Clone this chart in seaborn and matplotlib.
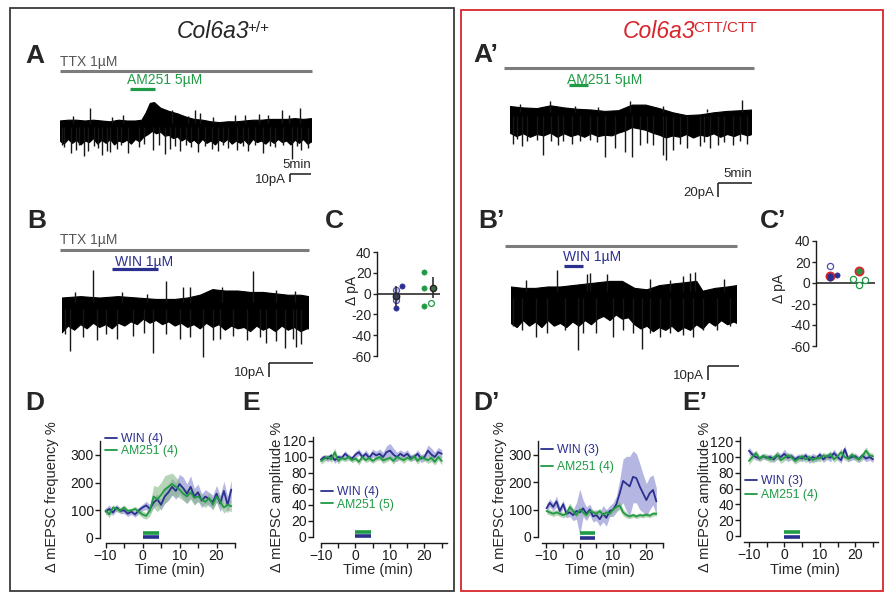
import numpy as np
import matplotlib
matplotlib.use("Agg")
import matplotlib.pyplot as plt
import matplotlib.transforms as mtransforms
from matplotlib.patches import Rectangle
import seaborn as sns

# ---------------- DATA ----------------
# Panel A (Col6a3+/+, AM251) trace: envelope (min, pA), events
A_UP_T = [0,2,4,6,8,10,12,14,16,18,19.5,20.5,21.5,22.5,24,26,28,30,32,34,36,38,40,42,44,46,48,50,52,54,56,58,60]
A_UP_V = [0,1,1,0,1,0,-1,1,0,0,1,10,22,23,16,12,9,5,2,1,-1,-2,-1,-1,0,1,1,2,2,2,3,2,3]
A_LO_T = list(range(0, 61))
A_LO_V = [-25,-29,-23,-28,-24,-30,-25,-27,-22,-29,
          -24,-28,-23,-30,-25,-27,-24,-29,-23,-26,
          -20,-17,-13,-16,-14,-19,-18,-22,-20,-25,
          -22,-27,-24,-29,-23,-28,-25,-30,-24,-27,
          -23,-29,-25,-28,-24,-30,-23,-27,-25,-29,
          -24,-28,-23,-27,-25,-30,-24,-28,-23,-29,
          -26]
A_DN_T = [0.5,1.0,2.6,3.7,4.5,5.6,6.7,8.0,9.0,9.9,11.1,11.9,13.5,14.5,16.3,18.7,20.0,22.2,23.5,25.0,26.2,27.5,28.6,30.0,31.3,32.9,34.5,36.1,37.7,38.8,40.1,42.1,43.5,44.8,46.5,48.4,50.0,51.2,53.0,55.2,56.5,57.5,59.1]
A_DN_V = [-30,-32,-40,-36,-30,-44,-38,-31,-34,-42,-37,-39,-35,-30,-40,-33,-29,-36,-30,-41,-35,-31,-38,-30,-33,-39,-31,-35,-37,-30,-34,-36,-31,-38,-30,-40,-31,-33,-30,-47,-31,-36,-34]
A_UK_T = [3.0,7.1,12.5,15.0,26.6,30.5,32.1,33.3,36.5,41.7,44.0,47.5,49.5,52.8,54.5,57.1]
A_UK_V = [6,16,5,7,14,6,14,10,5,8,7,9,8,14,7,16]
A_TTX = (0, 60)
A_DRUG = (16.7, 22.6)

# Panel A' (Col6a3 CTT/CTT, AM251)
AP_UP_T = [0,2,4,6,8,10,12,14,16,18,20,22,24,26,28,30,32,34,35.6]
AP_UP_V = [5,3,2,6,3,1,0,-2,-1,7,7,2,-4,-8,-7,-4,-2,-1,0]
AP_LO_T = list(range(0, 36)) + [35.6]
AP_LO_V = [-33,-38,-34,-39,-35,-37,-33,-39,-34,-38,
           -35,-39,-34,-38,-36,-37,-33,-30,-25,-27,
           -29,-33,-36,-40,-37,-39,-35,-40,-36,-38,
           -34,-39,-35,-38,-34,-37,
           -35]
AP_DN_T = [0.5,1.0,1.7,2.5,3.9,4.9,6.0,7.1,7.8,9.1,10.3,11.8,12.8,14.0,15.4,16.9,17.9,19.1,20.2,21.1,22.5,23.0,24.0,25.0,26.0,27.9,28.6,29.4,30.6,31.5,32.8,33.8,34.8]
AP_DN_V = [-48,-41,-52,-44,-43,-64,-45,-50,-45,-48,-45,-43,-46,-67,-55,-60,-67,-50,-47,-50,-64,-71,-57,-48,-55,-52,-46,-55,-50,-46,-50,-45,-48]
AP_UK_T = [1.5,5.9,9.5,13.0,17.6,22.5,29.0,34.2]
AP_UK_V = [9,13,6,5,13,6,2,14]
AP_TTX = (-0.9, 35.9)
AP_DRUG = (8.7, 11.5)

# Panel B (Col6a3+/+, WIN)
B_UP_T = [0,3,6,9,12,15,18,20,22,24,26,28,30,32,34,36,38,39.3]
B_UP_V = [0,1,0,1,0,-1,-1,0,2,6,5,5,4,4,3,2,2,1]
B_LO_T = list(range(0, 40)) + [39.3]
B_LO_V = [-25,-20,-23,-19,-22,-18,-21,-19,-22,-18,
          -20,-17,-19,-15,-18,-16,-19,-17,-20,-18,
          -21,-19,-22,-18,-21,-19,-23,-20,-22,-21,
          -24,-20,-23,-21,-24,-20,-23,-21,-24,-22,
          -22]
B_DN_T = [0.4,1.3,3.4,5.5,7.0,8.7,11.3,13.0,14.5,16.5,18.8,20.4,22.5,24.1,25.1,27.2,29.4,31.5,32.5,34.1,35.5,36.8,37.3,38.1]
B_DN_V = [-26,-38,-28,-30,-26,-29,-27,-25,-39,-26,-29,-28,-42,-30,-29,-27,-30,-28,-32,-31,-36,-29,-35,-33]
B_UK_T = [2.0,5.0,9.5,13.5,16.5,19.3,20.4,25.5,30.4,34.0,37.0]
B_UK_V = [4,20,4,3,12,8,8,8,19,6,5]
B_TTX = (-0.3, 39.3)
B_DRUG = (7.9, 15.3)

# Panel B' (Col6a3 CTT/CTT, WIN)
BP_UP_T = [0,2,4,6,8,10,12,14,16,18,20,22,24,26,28,30,31,33,35,36.5]
BP_UP_V = [0,-1,-1,0,0,1,2,3,4,4,-1,-2,1,2,3,4,-3,-1,0,1]
BP_LO_T = list(range(0, 37)) + [36.5]
BP_LO_V = [-26,-29,-24,-28,-25,-29,-24,-28,-26,-29,
           -25,-28,-24,-27,-23,-21,-24,-20,-23,-22,
           -27,-30,-28,-32,-29,-31,-28,-32,-29,-31,
           -27,-30,-25,-28,-24,-27,-25,
           -26]
BP_DN_T = [0.4,1.7,4.1,5.8,8.7,10.9,11.7,13.8,16.5,18.1,19.7,21.1,22.4,24.0,25.6,27.8,29.4,31.0,33.2,35.3]
BP_DN_V = [-28,-31,-36,-33,-31,-45,-33,-33,-36,-31,-33,-44,-33,-36,-33,-34,-36,-31,-31,-28]
BP_UK_T = [2.5,7.4,12.2,12.7,15.5,22.4,25.6,27.8,28.9,29.7,34.4]
BP_UK_V = [5,12,9,10,9,6,5,8,10,11,6]
BP_TTX = (-1.0, 36.5)
BP_DRUG = (8.5, 11.6)

# Panel C / C' : delta pA
C_WIN_OPEN = [3, -3, -6]
C_WIN_FILLED = [-14, 7.5]
C_WIN_MEAN, C_WIN_SEM = -2.5, 9.5
C_AM_FILLED = [21, 5, -12]
C_AM_OPEN = [-9]
C_AM_MEAN, C_AM_SEM = 5.5, 10
CP_WIN_OPEN = [16]
CP_WIN_FILLED = [5, 8]
CP_WIN_MEAN = 6.5
CP_AM_OPEN = [4, -1.5, 2.5]
CP_AM_MEAN = 11.5
C_YTICKS = [40, 20, 0, -20, -40, -60]

# Panels D/E/D'/E' time courses (min, %)
T_D = list(range(-10, 25))
D_WIN = [95,105,92,110,98,100,88,95,85,100,110,118,105,128,140,120,150,165,185,170,195,180,160,185,150,165,135,150,140,130,160,125,170,120,175]
D_WIN_SEM = [12,15,10,12,10,12,10,10,10,12,12,15,15,18,20,20,25,30,30,30,35,40,35,40,30,30,25,25,25,25,30,30,35,30,35]
D_AM = [100,85,110,105,100,110,98,100,105,95,85,80,100,150,140,155,175,185,195,185,175,160,150,165,145,150,140,130,145,120,150,130,110,120,115]
D_AM_SEM = [10,12,10,10,10,10,8,8,10,10,12,12,20,40,45,45,50,45,40,35,30,25,25,25,25,20,20,20,20,20,20,20,20,20,20]

T_E = list(range(-10, 26))
E_WIN = [97,100,98,102,96,100,99,104,100,98,103,106,100,104,99,105,102,104,100,106,108,103,100,104,101,104,99,100,104,98,100,108,103,100,106,104]
E_WIN_SEM = [4,3,4,3,4,3,3,4,3,3,4,4,4,5,4,5,5,6,6,8,9,8,6,5,5,5,4,4,5,5,5,7,8,6,6,5]
E_AM = [95,98,100,97,106,95,99,97,100,96,98,94,100,96,99,95,98,100,96,97,99,95,100,98,96,99,97,101,95,100,98,96,99,94,100,95]
E_AM_SEM = [4,4,3,4,5,4,3,3,4,3,3,4,3,3,4,3,3,4,4,3,3,4,3,3,4,3,3,4,4,3,3,4,5,4,4,5]

T_DP = list(range(-10, 24))
DP_WIN = [105,125,110,130,95,120,85,90,80,95,90,105,85,100,75,80,65,85,70,95,100,120,160,205,195,185,220,215,185,160,135,160,172,130]
DP_WIN_SEM = [15,15,15,20,15,15,15,15,20,30,85,30,25,20,20,20,25,30,30,20,25,30,50,80,100,110,95,90,85,70,60,60,55,50]
DP_AM = [95,90,85,90,85,80,85,110,95,80,100,90,80,95,90,85,95,80,90,85,100,110,115,90,80,75,80,75,80,78,82,78,85,85]
DP_AM_SEM = [10,10,10,10,10,10,10,15,10,10,12,10,10,10,10,10,10,10,10,10,12,15,15,12,10,8,8,8,8,8,8,8,8,8]

T_EP = list(range(-10, 26))
EP_WIN = [108,103,100,98,101,99,100,97,102,100,104,99,101,97,100,98,102,96,100,98,103,97,101,99,105,100,96,110,98,100,101,97,102,98,100,97]
EP_WIN_SEM = [5,4,4,3,3,3,4,4,5,4,6,5,4,4,4,4,4,4,5,4,4,4,4,5,5,4,4,5,4,4,4,4,4,4,4,4]
EP_AM = [95,100,105,98,101,100,97,99,103,96,99,102,100,95,98,101,97,100,96,99,98,102,100,104,97,101,106,100,98,103,99,97,101,108,102,101]
EP_AM_SEM = [5,4,4,4,4,4,4,4,5,4,4,4,4,4,4,4,4,4,4,4,4,4,4,4,4,4,5,4,4,4,4,4,5,5,4,4]
DRUG_ON = (0, 4.5)

# ---------------- STYLE ----------------
sns.set_theme(style="white")
plt.rcParams['font.family'] = ['Liberation Sans', 'DejaVu Sans']
BLUE = '#2b2f8e'
GREEN = '#1f9a45'
BLUE_SH = '#8587cf'
GREEN_SH = '#86b886'
GRAY = '#7c7c7c'
TXTGRAY = '#555555'
RED = '#d8262c'

W, H = 887, 594
fig = plt.figure(figsize=(W / 100, H / 100), dpi=100)
fig.patch.set_facecolor('white')
PXT = mtransforms.Affine2D().scale(1 / W, -1 / H).translate(0, 1) + fig.transFigure

bg = fig.add_axes([0, 0, 1, 1])
bg.set_xlim(0, W)
bg.set_ylim(H, 0)
bg.axis('off')


def add_ax(x0, y0, x1, y1):
    ax = fig.add_axes([x0 / W, 1 - y1 / H, (x1 - x0) / W, (y1 - y0) / H])
    ax.patch.set_alpha(0)
    return ax


# frames
bg.add_patch(Rectangle((10, 8), 444, 583, fill=False, ec='#3a3a3a', lw=1.3))
bg.add_patch(Rectangle((461, 10), 422, 581, fill=False, ec=RED, lw=1.3))

# titles
t1 = bg.text(177, 38, 'Col6a3', fontsize=16.5, style='italic', va='baseline', ha='left')
bg.annotate('+/+', xy=(1, 1), xycoords=t1, xytext=(-1.5, -1), textcoords='offset points',
            ha='left', va='top', fontsize=11)
t2 = bg.text(623, 38, 'Col6a3', fontsize=16.5, style='italic', va='baseline', ha='left', color=RED)
bg.annotate('CTT/CTT', xy=(1, 1), xycoords=t2, xytext=(-1.5, -1), textcoords='offset points',
            ha='left', va='top', fontsize=11, color=RED)

# panel letters
for lab, x, y in [('A', 25, 63), ('A\u2019', 473, 62), ('B', 27, 228), ('C', 325, 228),
                  ('B\u2019', 478, 228), ('C\u2019', 760, 228), ('D', 25, 410), ('E', 242, 410),
                  ('D\u2019', 473, 410), ('E\u2019', 682, 410)]:
    bg.text(x, y, lab, fontsize=19, fontweight='bold', va='baseline', ha='left')


def trace_panel(rect, xlim, ylim, up_t, up_v, lo_t, lo_v, dn_t, dn_v, uk_t, uk_v):
    ax = add_ax(*rect)
    ax.set_xlim(*xlim)
    ax.set_ylim(*ylim)
    ax.axis('off')
    xs = np.concatenate([up_t, lo_t[::-1]])
    ys = np.concatenate([up_v, lo_v[::-1]])
    ax.fill(xs, ys, color='black', lw=0.8)
    ax.vlines(dn_t, dn_v, -8, color='#161616', lw=1.0)
    ax.vlines(uk_t, -3, uk_v, color='#161616', lw=1.0)
    return ax


def drug_bar(ax, span, v, color, lw=2.3):
    ax.hlines(v, span[0], span[1], color=color, lw=lw, clip_on=False)


def scalebar(ax, t0, v0, dt, dv, tlab, vlab):
    ax.plot([t0, t0 + dt], [v0, v0], color='k', lw=1.1, clip_on=False, solid_capstyle='butt')
    ax.plot([t0, t0], [v0, v0 - dv], color='k', lw=1.1, clip_on=False, solid_capstyle='butt')
    ax.annotate(tlab, (t0 + dt, v0), xytext=(0, 2), textcoords='offset points',
                ha='right', va='bottom', fontsize=9.5)
    ax.annotate(vlab, (t0, v0 - dv * 0.7), xytext=(-3, 0), textcoords='offset points',
                ha='right', va='center', fontsize=9.5)


# ---- Panel A
axA = trace_panel((60, 55, 312, 190), (0, 60), (-86.25, 82.5),
                  A_UP_T, A_UP_V, A_LO_T, A_LO_V, A_DN_T, A_DN_V, A_UK_T, A_UK_V)
drug_bar(axA, A_TTX, 62.5, GRAY, lw=2.2)
axA.text(0, 73.75, 'TTX 1\u00b5M', color=TXTGRAY, fontsize=10, va='center', ha='left')
drug_bar(axA, A_DRUG, 40, GREEN)
axA.text(16.0, 51, 'AM251 5\u00b5M', color=GREEN, fontsize=10, va='center', ha='left')
scalebar(axA, 54.8, -66.25, 5, 10, '5min', '10pA')

# ---- Panel A'
axAP = trace_panel((510, 55, 752, 200), (0, 35.6), (-128.6, 78.6),
                   AP_UP_T, AP_UP_V, AP_LO_T, AP_LO_V, AP_DN_T, AP_DN_V, AP_UK_T, AP_UK_V)
drug_bar(axAP, AP_TTX, 60, GRAY, lw=2.2)
drug_bar(axAP, AP_DRUG, 35.7, GREEN)
axAP.text(8.4, 42.9, 'AM251 5\u00b5M', color=GREEN, fontsize=10, va='center', ha='left')
scalebar(axAP, 30.6, -104.3, 5, 20, '5min', '20pA')

# ---- Panel B
axB = trace_panel((62, 235, 309, 385), (0, 39.3), (-62.1, 45),
                  B_UP_T, B_UP_V, B_LO_T, B_LO_V, B_DN_T, B_DN_V, B_UK_T, B_UK_V)
drug_bar(axB, B_TTX, 34.3, GRAY, lw=2.2)
axB.text(-0.3, 41.4, 'TTX 1\u00b5M', color=TXTGRAY, fontsize=10, va='center', ha='left')
drug_bar(axB, B_DRUG, 20.7, BLUE)
axB.text(8.4, 25.7, 'WIN 1\u00b5M', color=BLUE, fontsize=10, va='center', ha='left')
scalebar(axB, 32.9, -46.4, 7, 10, '7min', '10pA')

# ---- Panel B'
axBP = trace_panel((511, 230, 737, 385), (0, 36.5), (-70, 40.7),
                   BP_UP_T, BP_UP_V, BP_LO_T, BP_LO_V, BP_DN_T, BP_DN_V, BP_UK_T, BP_UK_V)
drug_bar(axBP, BP_TTX, 29.3, GRAY, lw=2.2)
drug_bar(axBP, BP_DRUG, 15, BLUE)
axBP.text(8.4, 21.4, 'WIN 1\u00b5M', color=BLUE, fontsize=10, va='center', ha='left')
scalebar(axBP, 31.8, -56.4, 5, 10, '5min', '10pA')


# ---- Panels C / C'
def scatter_axes(rect):
    ax = add_ax(*rect)
    ax.set_xlim(0, 3)
    ax.set_ylim(-60, 40)
    sns.despine(ax=ax, bottom=True)
    ax.spines['left'].set_color('k')
    ax.spines['left'].set_linewidth(1.0)
    ax.set_xticks([])
    ax.set_yticks(C_YTICKS)
    ax.set_yticklabels([str(v) for v in C_YTICKS])
    ax.tick_params(axis='y', left=True, direction='out', length=3, width=1, labelsize=10, pad=1)
    ax.axhline(0, color='k', lw=1.1, zorder=1)
    return ax


axC = scatter_axes((377, 252, 440, 356))
sns.scatterplot(x=[0.9] * 3, y=C_WIN_OPEN, ax=axC, s=20, color='#c4c6ee', edgecolor='#4a4fb0',
                linewidth=0.8, zorder=3, legend=False)
sns.scatterplot(x=[0.9, 1.2], y=C_WIN_FILLED, ax=axC, s=14, color=BLUE, edgecolor=BLUE,
                linewidth=0.5, zorder=3, legend=False)
sns.scatterplot(x=[2.24] * 3, y=C_AM_FILLED, ax=axC, s=14, color=GREEN, edgecolor=GREEN,
                linewidth=0.5, zorder=3, legend=False)
sns.scatterplot(x=[2.57], y=C_AM_OPEN, ax=axC, s=18, color='white', edgecolor=GREEN,
                linewidth=0.9, zorder=3, legend=False)
axC.errorbar([0.9], [C_WIN_MEAN], yerr=[C_WIN_SEM], fmt='o', color='#222222', ms=4.5,
             mfc='#3d3d5a', mec='#222222', lw=1.1, zorder=4, clip_on=False)
axC.errorbar([2.69], [C_AM_MEAN], yerr=[C_AM_SEM], fmt='o', color='#222222', ms=4.5,
             mfc='#3f6b46', mec='#222222', lw=1.1, zorder=4, clip_on=False)
bg.text(352, 290, '\u0394 pA', rotation=90, ha='center', va='center', fontsize=10)

axCP = scatter_axes((816, 241, 875, 346))
sns.scatterplot(x=[0.71], y=CP_WIN_OPEN, ax=axCP, s=20, color='white', edgecolor='#4a4fb0',
                linewidth=0.9, zorder=3, legend=False)
sns.scatterplot(x=[0.71], y=[CP_WIN_MEAN], ax=axCP, s=34, color=BLUE, edgecolor=RED,
                linewidth=1.3, zorder=3, legend=False)
sns.scatterplot(x=[0.71, 1.07], y=CP_WIN_FILLED, ax=axCP, s=14, color=BLUE, edgecolor=BLUE,
                linewidth=0.5, zorder=4, legend=False)
sns.scatterplot(x=[1.88, 2.18, 2.49], y=CP_AM_OPEN, ax=axCP, s=20, color='white', edgecolor=GREEN,
                linewidth=0.9, zorder=3, legend=False)
sns.scatterplot(x=[2.18], y=[CP_AM_MEAN], ax=axCP, s=34, color=GREEN, edgecolor=RED,
                linewidth=1.3, zorder=4, legend=False)
bg.text(779, 288, '\u0394 pA', rotation=90, ha='center', va='center', fontsize=10)


# ---- Panels D / E / D' / E'
def tc_axes(rect, xlim, ylim, xb, yb, yticks):
    ax = add_ax(*rect)
    ax.set_xlim(*xlim)
    ax.set_ylim(*ylim)
    sns.despine(ax=ax)
    ax.spines['left'].set_bounds(*yb)
    ax.spines['bottom'].set_bounds(*xb)
    for s in ('left', 'bottom'):
        ax.spines[s].set_color('k')
        ax.spines[s].set_linewidth(1.0)
    ax.set_xticks([-10, 0, 10, 20])
    ax.set_xticks([-5, 5, 15, 25], minor=True)
    ax.set_yticks(yticks)
    ax.tick_params(which='both', bottom=True, left=True, direction='out', length=3.5, width=1,
                   labelsize=10, pad=1, colors='k')
    ax.tick_params(which='minor', left=False)
    return ax


def tc_series(ax, t, win, win_sem, am, am_sem, lab_win, lab_am, bars_v, leg_xy, spacing):
    win = np.asarray(win, float); ws = np.asarray(win_sem, float)
    am = np.asarray(am, float); as_ = np.asarray(am_sem, float)
    ax.fill_between(t, win - ws, win + ws, color=BLUE_SH, alpha=0.6, lw=0)
    ax.fill_between(t, am - as_, am + as_, color=GREEN_SH, alpha=0.6, lw=0)
    sns.lineplot(x=t, y=win, color=BLUE, lw=1.3, ax=ax, label=lab_win)
    sns.lineplot(x=t, y=am, color=GREEN, lw=1.3, ax=ax, label=lab_am)
    ax.hlines(bars_v[0], DRUG_ON[0], DRUG_ON[1], color=GREEN, lw=2.6, clip_on=False)
    ax.hlines(bars_v[1], DRUG_ON[0], DRUG_ON[1], color=BLUE, lw=2.6, clip_on=False)
    ax.set_xlabel('')
    ax.set_ylabel('')
    leg = ax.legend(loc='upper left', bbox_to_anchor=leg_xy, bbox_transform=PXT, frameon=False,
                    fontsize=8.7, handlelength=1.0, handletextpad=0.3, labelspacing=spacing,
                    borderpad=0, borderaxespad=0, labelcolor='linecolor')
    for h in leg.get_lines():
        h.set_linewidth(1.3)


axD = tc_axes((100, 438, 236, 543), (-11.49, 25.27), (-18.1, 361.4), (-10, 25), (0, 350), [0, 100, 200, 300])
tc_series(axD, T_D, D_WIN, D_WIN_SEM, D_AM, D_AM_SEM, 'WIN (4)', 'AM251 (4)', (18, 2), (105, 433), 0.0)

axE = tc_axes((313, 436, 449, 543), (-12.3, 27.1), (-7.5, 126.25), (-10, 26.5), (0, 125), [0, 20, 40, 60, 80, 100, 120])
tc_series(axE, T_E, E_WIN, E_WIN_SEM, E_AM, E_AM_SEM, 'WIN (4)', 'AM251 (5)', (6.6, 1.2), (321, 486), 0.05)

axDP = tc_axes((538, 438, 666, 543), (-12.55, 25.9), (-22, 362), (-11.3, 25), (0, 350), [0, 100, 200, 300])
tc_series(axDP, T_DP, DP_WIN, DP_WIN_SEM, DP_AM, DP_AM_SEM, 'WIN (3)', 'AM251 (4)', (15.7, -2.5), (541, 444), 0.45)

axEP = tc_axes((740, 436, 880, 542), (-12.5, 26.96), (-7.6, 126.6), (-11.5, 26.5), (0, 125), [0, 20, 40, 60, 80, 100, 120])
tc_series(axEP, T_EP, EP_WIN, EP_WIN_SEM, EP_AM, EP_AM_SEM, 'WIN (3)', 'AM251 (4)', (5.4, -0.9), (745, 475), 0.2)

# axis labels
for x, y in [(52, 497), (500, 497)]:
    bg.text(x, y, '\u0394 mEPSC frequency %', rotation=90, ha='center', va='center', fontsize=10.5)
for x, y in [(277, 497), (705, 497)]:
    bg.text(x, y, '\u0394 mEPSC amplitude %', rotation=90, ha='center', va='center', fontsize=10.5)
for x in (170, 378, 600, 805):
    bg.text(x, 563, 'Time (min)', ha='center', va='top', fontsize=10.5)

fig.savefig('out.png', dpi=100, facecolor='white')
